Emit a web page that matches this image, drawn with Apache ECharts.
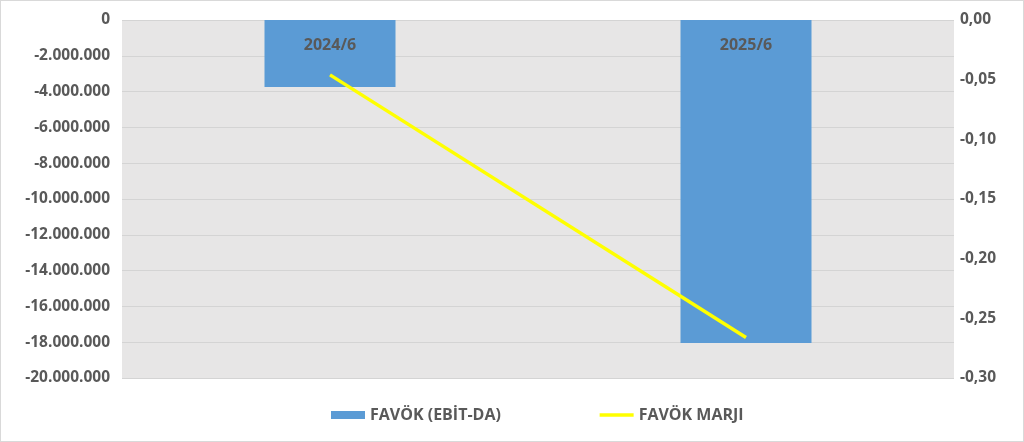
<!DOCTYPE html>
<html>
<head>
<meta charset="utf-8">
<script src="https://cdn.jsdelivr.net/npm/echarts@6/dist/echarts.min.js"></script>
<style>
  html, body { margin: 0; padding: 0; background: #fff; }
  #main { width: 1022px; height: 440px; border: 1px solid #d9d9d9; }
</style>
</head>
<body>
<div id="main"></div>
<script>
// veriler
const categories = ['2024/6', '2025/6'];
const favokValues = [-3740000, -18040000];
const marjValues = [-0.046, -0.266];
const seriesNames = ['FAVÖK (EBİT-DA)', 'FAVÖK MARJI'];

const textColor = '#595959';
const fontFamily = 'Open Sans, Liberation Sans, sans-serif';

function fmtThousands(v) {
  const s = Math.abs(Math.round(v)).toString().replace(/\B(?=(\d{3})+(?!\d))/g, '.');
  return (v < 0 ? '-' : '') + s;
}

const myChart = echarts.init(document.getElementById('main'));
const option = {
  animation: false,
  grid: { left: 121, right: 69, top: 19, bottom: 63 },
  legend: {
    left: 325,
    top: 401,
    itemGap: 97,
    itemWidth: 34,
    itemHeight: 8,
    textStyle: { color: textColor, fontSize: 16, fontWeight: 'bold', fontFamily: fontFamily },
    data: [
      { name: seriesNames[0], icon: 'rect' },
      { name: seriesNames[1], itemStyle: { opacity: 0 }, lineStyle: { width: 3.5, color: '#ffff00' } }
    ]
  },
  xAxis: {
    type: 'category',
    data: categories,
    position: 'top',
    z: 10,
    axisLine: { show: false },
    axisTick: { show: false },
    axisLabel: {
      inside: true,
      margin: 17,
      color: textColor,
      fontSize: 16,
      fontWeight: 'bold',
      fontFamily: fontFamily
    }
  },
  yAxis: [
    {
      type: 'value',
      min: -20000000,
      max: 0,
      interval: 2000000,
      axisLine: { show: false },
      axisTick: { show: false },
      splitLine: { lineStyle: { color: '#d4d4d4', width: 1 } },
      splitArea: { show: true, areaStyle: { color: ['#e7e6e6', '#e7e6e6'] } },
      axisLabel: {
        margin: 12,
        color: textColor,
        fontSize: 15.5,
        fontWeight: 'bold',
        fontFamily: fontFamily,
        formatter: fmtThousands
      }
    },
    {
      type: 'value',
      min: -0.30,
      max: 0,
      interval: 0.05,
      axisLine: { show: false },
      axisTick: { show: false },
      splitLine: { show: false },
      axisLabel: {
        margin: 6,
        color: textColor,
        fontSize: 15.5,
        fontWeight: 'bold',
        fontFamily: fontFamily,
        formatter: v => v.toFixed(2).replace('.', ',')
      }
    }
  ],
  series: [
    {
      name: seriesNames[0],
      type: 'bar',
      yAxisIndex: 0,
      data: favokValues,
      barWidth: 131,
      itemStyle: { color: '#5b9bd5' }
    },
    {
      name: seriesNames[1],
      type: 'line',
      yAxisIndex: 1,
      data: marjValues,
      symbol: 'none',
      lineStyle: { color: '#ffff00', width: 3.5 },
      itemStyle: { color: '#ffff00' }
    }
  ]
};
myChart.setOption(option);
</script>
</body>
</html>
